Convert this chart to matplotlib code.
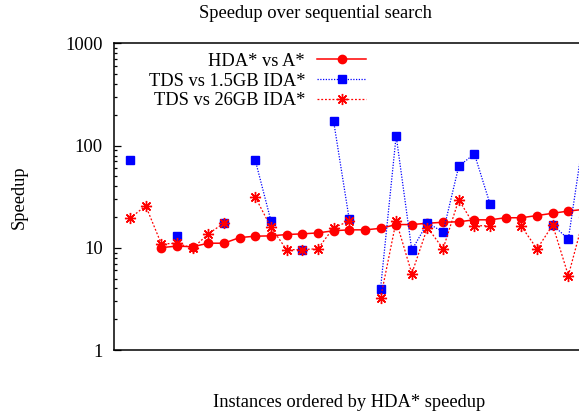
import numpy as np
import matplotlib
matplotlib.use('Agg')
import matplotlib.pyplot as plt

nan = np.nan

"""Instance index on the x axis (ordered by HDA* speedup)"""
instances = list(range(31))

hda_vs_astar = [nan, nan, nan, 10.05, 10.4, 10.25, 11.1, 11.1, 12.6, 13.0,
                13.1, 13.5, 13.7, 14.0, 14.7, 15.0, 15.0, 15.5, 16.9, 16.9,
                17.4, 17.8, 18.0, 18.8, 18.8, 19.7, 19.7, 20.7, 21.8, 22.9,
                23.8]

tds_vs_small_ida = [nan, 72, nan, nan, 13.0, nan, nan, 17.5, nan, 72,
                    18.4, nan, 9.5, nan, 175, 19.1, nan, 3.95, 125, 9.5,
                    17.5, 14.3, 63, 83, 26.8, nan, nan, nan, 16.7, 12.2,
                    130]

tds_vs_big_ida = [nan, 19.5, 25.8, 10.9, 11.1, 9.9, 13.7, 17.5, nan, 31.4,
                  15.9, 9.6, 9.6, 9.8, 15.7, 18.3, nan, 3.2, 18.3, 5.6,
                  15.8, 9.8, 29.6, 16.5, 16.4, nan, 16.2, 9.76, 16.7, 5.35,
                  20]

W, H = 579, 415
plt.rcParams['font.family'] = ['Liberation Serif', 'DejaVu Serif']
plt.rcParams['font.size'] = 13.3

fig = plt.figure(figsize=(W / 100, H / 100), dpi=100)
# plot area runs past the right edge of the picture (as in the cropped original)
left, right, top, bottom = 114.4, 584.0, 43.5, 350.0
ax = fig.add_axes([left / W, 1 - bottom / H, (right - left) / W, (bottom - top) / H])

ax.plot(instances, hda_vs_astar, color='red', linewidth=1.1, marker='o',
        markersize=6, label='HDA* vs A*', clip_on=False)
ax.plot(instances, tds_vs_small_ida, color='blue', linewidth=0.9,
        linestyle=(0, (1, 1.2)), marker='s', markersize=6.3,
        label='TDS vs 1.5GB IDA*', clip_on=False)
ax.plot(instances, tds_vs_big_ida, color='red', linewidth=0.9,
        linestyle=(0, (1.5, 1.5)), marker=(8, 2, 0), markersize=8,
        markeredgewidth=1.0, label='TDS vs 26GB IDA*', clip_on=False)

ax.set_yscale('log')
ax.set_ylim(1, 1000)
ax.set_xlim(0, 30)
ax.set_yticks([1, 10, 100, 1000])
ax.set_yticklabels(['1', '10', '100', '1000'])
ax.set_xticks([])
ax.tick_params(axis='y', which='major', direction='in', length=6.7 / 1.389,
               width=0.9, pad=8.3)
ax.tick_params(axis='y', which='minor', direction='in', length=3.3 / 1.389,
               width=0.9)
for side in ['left', 'top', 'bottom']:
    ax.spines[side].set_linewidth(1.1)
ax.spines['right'].set_visible(False)

fig.text(315.5 / W, 1 - 14 / H, 'Speedup over sequential search',
         ha='center', va='center')
fig.text(349 / W, 1 - 402 / H, 'Instances ordered by HDA* speedup',
         ha='center', va='center')
fig.text(19 / W, 1 - 197 / H, 'Speedup', ha='center', va='center',
         rotation=90)

ax.legend(loc='center right', bbox_to_anchor=(366 / W, 1 - 81 / H),
          bbox_transform=fig.transFigure, frameon=False, markerfirst=False,
          borderpad=0, borderaxespad=0, handlelength=2.65, handletextpad=0.65,
          labelspacing=0.16, numpoints=1)

fig.savefig('out.png', dpi=100)
